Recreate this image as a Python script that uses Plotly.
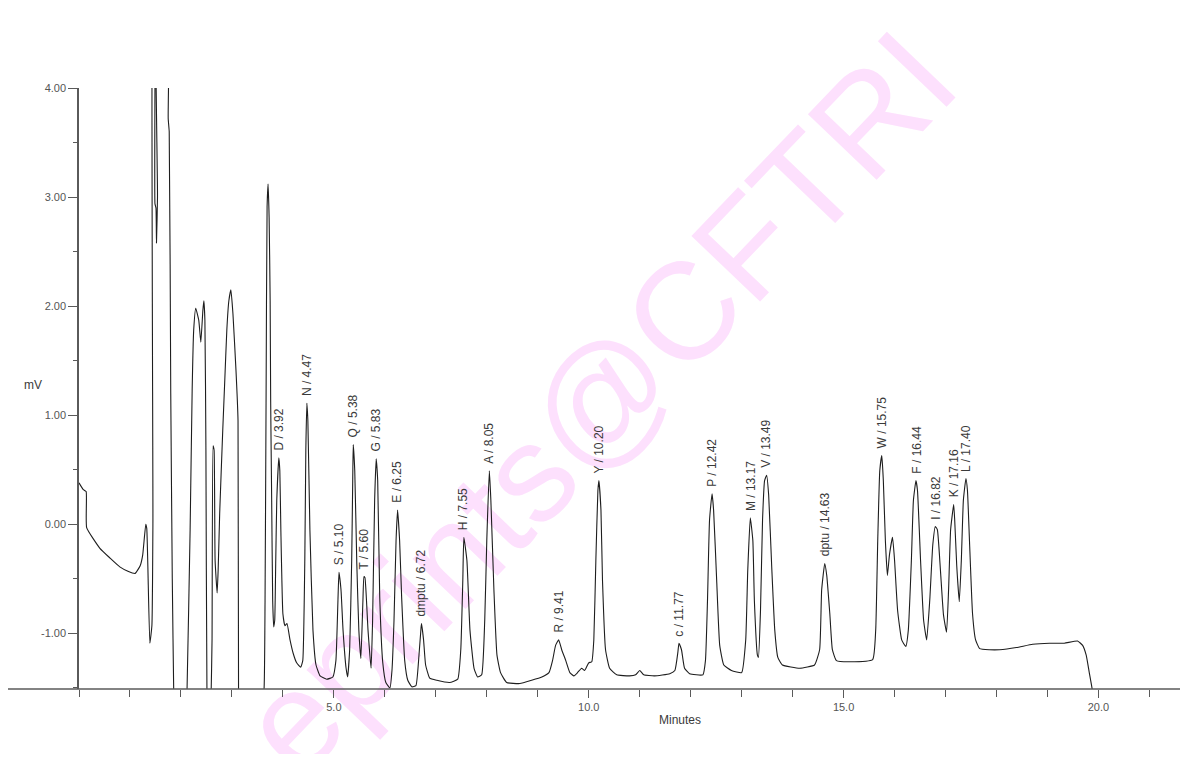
import plotly.graph_objects as go

# Chromatogram trace (minutes, mV)
time_min = [
    0.00, 0.08, 0.14, 0.15, 0.41, 0.61, 0.80, 0.96, 1.10, 1.20, 1.25, 1.31, 1.33, 1.39, 1.43,
    1.45, 1.46, 1.48, 1.49, 1.51, 1.52, 1.54, 1.55, 1.74, 1.75, 1.77, 1.80, 1.83, 1.86, 1.90,
    2.05, 2.12, 2.18, 2.22, 2.25, 2.29, 2.35, 2.39, 2.43, 2.45, 2.47, 2.49, 2.51, 2.55,
    2.59, 2.61, 2.63, 2.65, 2.67, 2.71, 2.73, 2.76, 2.82, 2.86, 2.90, 2.94, 2.98, 3.02,
    3.08, 3.12, 3.13, 3.18, 3.55, 3.59, 3.63, 3.65, 3.67, 3.69, 3.71, 3.73, 3.75, 3.76,
    3.78, 3.80, 3.82, 3.84, 3.86, 3.88, 3.92, 3.94, 3.96, 4.00, 4.04, 4.08, 4.14, 4.20,
    4.27, 4.35, 4.39, 4.43, 4.45, 4.47, 4.49, 4.53, 4.59, 4.65, 4.73, 4.86, 4.98, 5.04,
    5.08, 5.10, 5.14, 5.18, 5.24, 5.27, 5.31, 5.35, 5.37, 5.38, 5.41, 5.45, 5.49, 5.53,
    5.57, 5.59, 5.61, 5.67, 5.73, 5.76, 5.80, 5.83, 5.86, 5.90, 5.96, 6.02, 6.10, 6.14,
    6.18, 6.22, 6.25, 6.29, 6.33, 6.39, 6.45, 6.53, 6.61, 6.67, 6.71, 6.72, 6.76, 6.80,
    6.88, 7.02, 7.27, 7.43, 7.49, 7.53, 7.55, 7.61, 7.67, 7.75, 7.82, 7.90, 7.96, 8.00,
    8.05, 8.08, 8.14, 8.20, 8.27, 8.39, 8.65, 8.88, 9.08, 9.22, 9.29, 9.35, 9.41, 9.47,
    9.55, 9.63, 9.71, 9.78, 9.86, 9.92, 10.00, 10.06, 10.10, 10.14, 10.18, 10.20, 10.24,
    10.27, 10.33, 10.41, 10.55, 10.80, 10.92, 11.00, 11.08, 11.29, 11.59, 11.69, 11.75,
    11.77, 11.82, 11.88, 11.98, 12.24, 12.29, 12.33, 12.37, 12.42, 12.45, 12.51, 12.57,
    12.65, 12.80, 13.00, 13.08, 13.12, 13.17, 13.22, 13.25, 13.31, 13.33, 13.37, 13.41,
    13.45, 13.49, 13.53, 13.59, 13.65, 13.71, 13.80, 14.14, 14.43, 14.53, 14.57, 14.63,
    14.67, 14.73, 14.78, 14.86, 15.12, 15.57, 15.63, 15.67, 15.71, 15.75, 15.78, 15.82,
    15.86, 15.90, 15.96, 16.00, 16.06, 16.14, 16.22, 16.27, 16.33, 16.37, 16.42, 16.45,
    16.51, 16.57, 16.63, 16.69, 16.75, 16.80, 16.84, 16.90, 16.96, 17.02, 17.06, 17.10,
    17.16, 17.18, 17.22, 17.27, 17.31, 17.35, 17.40, 17.43, 17.47, 17.53, 17.59, 17.67,
    17.86, 18.06, 18.39, 18.71, 19.04, 19.33, 19.59, 19.69, 19.76, 19.82, 19.88, 19.92,
]
signal_mv = [
    0.38, 0.32, 0.30, -0.03, -0.22, -0.31, -0.39, -0.43, -0.45, -0.38, -0.28, 0.00, -0.04, -1.09, -0.93,
    0.00, 6.00, 6.00, 2.94, 2.90, 2.58, 3.00, 6.00, 6.00, 3.72, 3.60, 1.20, -0.50, -1.60, -2.50,
    -2.50, -1.51, -0.05, 1.23, 1.78, 1.98, 1.87, 1.67, 1.96, 2.05, 1.87, 0.68, -1.51, -2.10,
    -1.60, -1.06, 0.72, 0.68, -0.33, -0.63, -0.42, 0.10, 0.86, 1.32, 1.78, 2.05, 2.15, 1.93,
    1.41, 0.95, -1.51, -2.20, -2.20, -1.61, -1.51, -0.70, 1.14, 2.91, 3.12, 2.81, 2.05, 1.14,
    0.22, -0.70, -0.94, -0.88, -0.33, 0.22, 0.61, 0.49, -0.05, -0.82, -0.93, -0.91, -1.06, -1.18,
    -1.27, -1.31, -1.25, -0.33, 0.68, 1.11, 0.95, -0.05, -0.97, -1.29, -1.39, -1.42, -1.40, -1.25,
    -0.70, -0.44, -0.60, -0.97, -1.32, -1.40, -1.15, -0.33, 0.40, 0.73, 0.49, -0.36, -0.97, -1.23,
    -0.70, -0.48, -0.49, -0.97, -1.32, -0.88, 0.22, 0.60, 0.40, -0.67, -1.27, -1.45, -1.50, -1.34,
    -0.88, -0.15, 0.13, -0.15, -0.67, -1.25, -1.43, -1.49, -1.48, -1.20, -0.95, -0.91, -1.06, -1.29,
    -1.41, -1.43, -1.45, -1.42, -1.15, -0.51, -0.12, -0.33, -0.97, -1.32, -1.40, -1.38, -0.88, -0.15,
    0.49, 0.22, -0.60, -1.20, -1.36, -1.45, -1.46, -1.43, -1.40, -1.36, -1.25, -1.11, -1.06, -1.15,
    -1.25, -1.36, -1.39, -1.36, -1.32, -1.34, -1.27, -1.26, -1.06, -0.33, 0.31, 0.40, 0.13,
    -0.51, -1.15, -1.32, -1.38, -1.39, -1.38, -1.34, -1.38, -1.39, -1.37, -1.34, -1.17,
    -1.09, -1.15, -1.32, -1.37, -1.38, -1.25, -0.70, 0.04, 0.28, 0.13, -0.51, -1.11,
    -1.29, -1.34, -1.36, -1.06, -0.42, 0.06, -0.15, -0.70, -1.20, -1.22, -0.79, 0.04,
    0.40, 0.45, 0.27, -0.39, -0.97, -1.22, -1.29, -1.32, -1.29, -1.15, -0.60, -0.36,
    -0.47, -0.82, -1.15, -1.25, -1.26, -1.24, -0.97, -0.15, 0.49, 0.63, 0.40, -0.15,
    -0.47, -0.28, -0.12, -0.33, -0.79, -1.06, -1.12, -0.97, -0.33, 0.22, 0.40, 0.31,
    -0.33, -0.88, -1.06, -0.70, -0.19, -0.02, -0.05, -0.42, -0.83, -0.99, -0.60, -0.05,
    0.18, 0.04, -0.38, -0.71, -0.33, 0.22, 0.42, 0.31, -0.15, -0.82, -1.06, -1.14,
    -1.15, -1.15, -1.13, -1.10, -1.09, -1.09, -1.07, -1.11, -1.20, -1.36, -1.52, -1.70,
]

# Peak labels
peak_names = ["D", "N", "S", "Q", "T", "G", "E", "dmptu", "H", "A", "R", "Y", "c", "P",
              "M", "V", "dptu", "W", "F", "I", "K", "L"]
peak_times = [3.92, 4.47, 5.10, 5.38, 5.60, 5.83, 6.25, 6.72, 7.55, 8.05, 9.41, 10.20,
              11.77, 12.42, 13.17, 13.49, 14.63, 15.75, 16.44, 16.82, 17.16, 17.40]
peak_heights = [0.61, 1.11, -0.44, 0.73, -0.48, 0.60, 0.13, -0.91, -0.12, 0.49, -1.06, 0.40,
                -1.09, 0.28, 0.06, 0.45, -0.36, 0.63, 0.40, -0.02, 0.18, 0.42]

y_ticks = [-1, 0, 1, 2, 3, 4]
y_tick_text = ["-1.00", "0.00", "1.00", "2.00", "3.00", "4.00"]
x_ticks = [5, 10, 15, 20]
x_tick_text = ["5.0", "10.0", "15.0", "20.0"]

FONT = "Liberation Sans, Arial, sans-serif"
AX = "#5a5a5a"

# figure sits inside the page's default 8px body margin
W, H = 1178, 746
L, R, T, B = 71, 6, 80, 65
pw, ph = W - L - R, H - T - B

fig = go.Figure()
fig.add_trace(go.Scatter(x=time_min, y=signal_mv, mode="lines",
                         line=dict(color="#1e1e1e", width=1.1, shape="spline", smoothing=0.4),
                         hoverinfo="skip", showlegend=False))

for name, t, h in zip(peak_names, peak_times, peak_heights):
    fig.add_annotation(x=t, y=h, text=f"{name} / {t:.2f}", textangle=-90,
                       showarrow=False, xanchor="center", yanchor="bottom", yshift=5,
                       font=dict(family=FONT, size=12, color="#3a3a3a"))

fig.add_annotation(xref="paper", yref="paper", x=(14 - L) / pw, y=(H - B - 377) / ph, text="mV",
                   showarrow=False, font=dict(family=FONT, size=12, color="#3a3a3a"))
fig.add_annotation(xref="paper", yref="paper", x=(672 - L) / pw, y=(H - B - 721) / ph,
                   text="Minutes", showarrow=False,
                   font=dict(family=FONT, size=12, color="#3a3a3a"))

# watermark, behind the trace
fig.add_shape(type="line", xref="paper", yref="paper",
              x0=(245 - L) / pw, y0=(H - B - 735) / ph, x1=(915 - L) / pw, y1=(H - B - 35) / ph,
              line=dict(width=0, color="rgba(0,0,0,0)"), layer="below",
              label=dict(text="eprints@CFTRI", textposition="middle", yanchor="middle",
                         font=dict(family=FONT, size=138, color="#fde0fd")))
# x-axis baseline extends left of the y axis
fig.add_shape(type="line", xref="paper", yref="paper", x0=(0 - L) / pw, y0=0, x1=1, y1=0,
              line=dict(width=1.5, color=AX), layer="above")

fig.update_layout(
    width=W, height=H,
    margin=dict(l=L, r=R, t=T, b=B),
    paper_bgcolor="white", plot_bgcolor="rgba(0,0,0,0)",
    font=dict(family=FONT, size=11, color="#555555"),
    xaxis=dict(range=[0, 21.6], showgrid=False, zeroline=False, showline=False,
               tickmode="array", tickvals=x_ticks, ticktext=x_tick_text,
               ticks="outside", ticklen=8, tickwidth=1, tickcolor=AX,
               minor=dict(dtick=1, tick0=0, ticks="outside", ticklen=7, tickcolor=AX),
               tickfont=dict(family=FONT, size=11, color="#555555")),
    yaxis=dict(range=[-1.51, 4.0], showgrid=False, zeroline=False, showline=True,
               linecolor=AX, linewidth=1.5,
               tickmode="array", tickvals=y_ticks, ticktext=y_tick_text,
               ticks="outside", ticklen=9, tickwidth=1, tickcolor=AX,
               minor=dict(dtick=0.5, tick0=0, ticks="outside", ticklen=4, tickcolor=AX),
               tickfont=dict(family=FONT, size=11, color="#555555")),
)

fig.write_html("out.html")
